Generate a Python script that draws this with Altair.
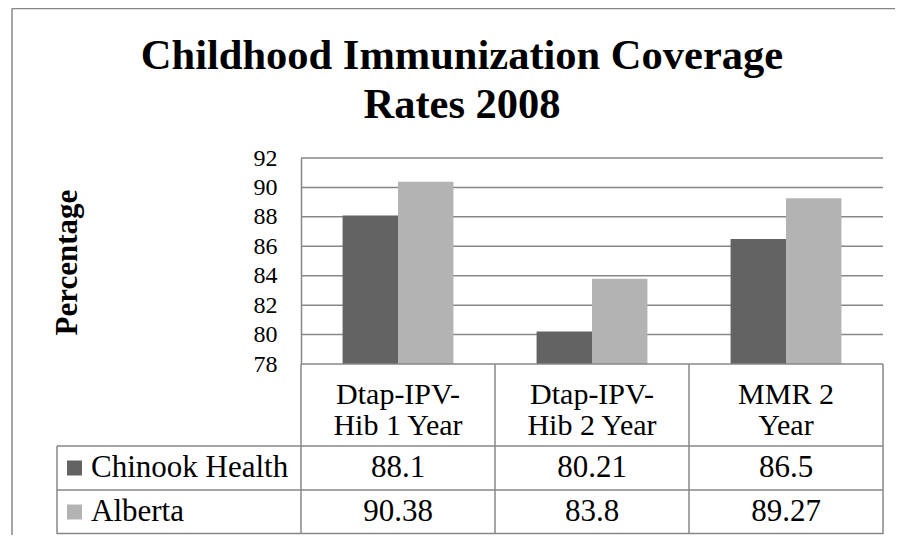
import altair as alt
import pandas as pd

# ---------------- data ----------------
categories = ["Dtap-IPV-Hib 1 Year", "Dtap-IPV-Hib 2 Year", "MMR 2 Year"]
category_labels = ["Dtap-IPV-\nHib 1 Year", "Dtap-IPV-\nHib 2 Year", "MMR 2\nYear"]
series_names = ["Chinook Health", "Alberta"]
chinook_health = [88.1, 80.21, 86.5]
alberta = [90.38, 83.8, 89.27]
y_ticks = [78, 80, 82, 84, 86, 88, 90, 92]
title_lines = ["Childhood Immunization Coverage", "Rates 2008"]
y_title = "Percentage"

values_df = pd.DataFrame({
    "category": categories * 2,
    "series": [series_names[0]] * 3 + [series_names[1]] * 3,
    "value": chinook_health + alberta,
})
values_df["label"] = values_df["value"].map(lambda v: f"{v:g}")
cat_df = pd.DataFrame({"category": categories, "label": category_labels})
series_df = pd.DataFrame({"series": series_names})
grid_df = pd.DataFrame({"tick": y_ticks[1:]})
one = alt.Data(values=[{}])

# ---------------- layout / style ----------------
FONT = "Liberation Serif"
PAD = {"left": 49, "top": 150, "right": 12, "bottom": 1}
W, H = 826, 376          # plot area (covers bar area + data table)
COL0 = 244               # left edge of first data column
BAR_BOTTOM = 206         # bottom of bar area (value 78)
ROWS_TOP = 288           # top of the value rows
HEADER_MID = 237         # middle of header row text block
LINE = "#878787"
LW = 1.5
DARK, LIGHT = "#636363", "#b3b3b3"
TFS = 31                 # table font size

x_scale = alt.Scale(domain=categories, range=[COL0, W], paddingInner=0, paddingOuter=0)
off_scale = alt.Scale(domain=series_names, paddingInner=0, paddingOuter=0.75)
y_scale = alt.Scale(domain=[78, 92], range=[BAR_BOTTOM, 0], nice=False, zero=False)
row_scale = alt.Scale(domain=series_names, range=[ROWS_TOP, H], paddingInner=0, paddingOuter=0)
color_scale = alt.Scale(domain=series_names, range=[DARK, LIGHT])

X = alt.X("category:N", scale=x_scale, axis=None)
ROW = alt.Y("series:N", scale=row_scale, axis=None)

# outer chart frame: only its left and top edges fall inside the picture
frame_top = alt.Chart(one).mark_rule(color=LINE, strokeWidth=LW).encode(
    x=alt.value(-45), x2=alt.value(W + 200), y=alt.value(-149.5))
frame_left = alt.Chart(one).mark_rule(color=LINE, strokeWidth=LW).encode(
    x=alt.value(-45), y=alt.value(-149.5), y2=alt.value(H + 200))

grid = alt.Chart(grid_df).mark_rule(color=LINE, strokeWidth=LW).encode(
    y=alt.Y("tick:Q", scale=y_scale, axis=None),
    x=alt.value(COL0), x2=alt.value(W),
)

bars = alt.Chart(values_df).mark_bar().encode(
    x=X,
    xOffset=alt.XOffset("series:N", scale=off_scale),
    y=alt.Y(
        "value:Q", scale=y_scale,
        axis=alt.Axis(
            values=y_ticks, offset=-COL0, domain=True, domainColor=LINE, domainWidth=LW,
            ticks=False, grid=False, labelFont=FONT, labelFontSize=24, labelColor="black",
            labelPadding=24, labelOverlap=False,
            title=y_title, titleFont=FONT, titleFontSize=31, titleFontWeight="bold",
            titleColor="black", titleAngle=270, titleX=-234, titleY=104,
            titleAlign="center", titleBaseline="middle",
        ),
    ),
    y2=alt.datum(78),
    color=alt.Color("series:N", scale=color_scale, legend=None),
)

# table borders
h_top = alt.Chart(one).mark_rule(color=LINE, strokeWidth=LW).encode(
    y=alt.value(BAR_BOTTOM), x=alt.value(COL0), x2=alt.value(W))
h_rows = alt.Chart(series_df).mark_rule(color=LINE, strokeWidth=LW).encode(
    y=alt.Y("series:N", scale=row_scale, axis=None, bandPosition=0),
    x=alt.value(0), x2=alt.value(W))
h_bottom = alt.Chart(one).mark_rule(color=LINE, strokeWidth=LW).encode(
    y=alt.value(H - 0.5), x=alt.value(0), x2=alt.value(W))
v_cols = alt.Chart(cat_df).mark_rule(color=LINE, strokeWidth=LW).encode(
    x=alt.X("category:N", scale=x_scale, axis=None, bandPosition=0),
    y=alt.value(BAR_BOTTOM), y2=alt.value(H))
v_right = alt.Chart(one).mark_rule(color=LINE, strokeWidth=LW).encode(
    x=alt.value(W), y=alt.value(BAR_BOTTOM), y2=alt.value(H))
v_left = alt.Chart(one).mark_rule(color=LINE, strokeWidth=LW).encode(
    x=alt.value(0), y=alt.value(ROWS_TOP), y2=alt.value(H))

header = alt.Chart(cat_df).mark_text(
    font=FONT, fontSize=30, lineBreak="\n", lineHeight=31, baseline="middle", color="black"
).encode(x=X, y=alt.value(HEADER_MID), text="label:N")

cells = alt.Chart(values_df).mark_text(
    font=FONT, fontSize=TFS, baseline="middle", color="black"
).encode(x=X, y=ROW, text="label:N")

swatches = alt.Chart(series_df).mark_square(size=225, opacity=1).encode(
    x=alt.value(17.5), y=ROW,
    color=alt.Color("series:N", scale=color_scale, legend=None))

legend_text = alt.Chart(series_df).mark_text(
    font=FONT, fontSize=TFS, baseline="middle", align="left", color="black"
).encode(x=alt.value(34), y=ROW, text="series:N")

chart = alt.layer(
    frame_top, frame_left, grid, bars, h_top, h_rows, h_bottom, v_cols, v_right, v_left,
    header, cells, swatches, legend_text,
).resolve_scale(y="independent").properties(
    width=W, height=H,
    title=alt.TitleParams(
        text=title_lines, font=FONT, fontSize=42.5, fontWeight="bold", color="black",
        anchor="middle", lineHeight=49, dx=-8, offset=-119,
    ),
    autosize=alt.AutoSizeParams(type="none"),
    padding=PAD,
).configure_view(strokeWidth=0)

chart.save("out.html", embed_options={"renderer": "svg", "actions": False})
